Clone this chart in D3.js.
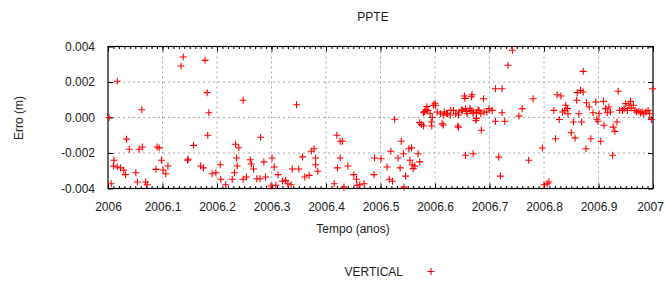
<!DOCTYPE html>
<html>
<head>
<meta charset="utf-8">
<script src="https://cdn.jsdelivr.net/npm/d3@7/dist/d3.min.js"></script>
<style>
  body { margin: 0; background: #fff; }
  text { font-family: "Liberation Sans Narrow", "Liberation Sans", Arial, sans-serif; fill: #222; }
  .axis path { display: none; }
  .axis line { stroke: #000; }
  .grid line { stroke: #a8a8a8; stroke-dasharray: 2,3; }
</style>
</head>
<body>
<script>
// data: [tempo (anos), erro (m)]
var vertical = [
  [2006.002, 0.0000], [2006.017, 0.00204], [2006.006, -0.00373], [2006.011, -0.00241], [2006.010, -0.00273],
  [2006.017, -0.00279], [2006.023, -0.00284], [2006.029, -0.00297], [2006.032, -0.00322], [2006.034, -0.00122],
  [2006.039, -0.00179], [2006.051, -0.00311], [2006.054, -0.00363], [2006.057, -0.00179], [2006.063, -0.00166],
  [2006.062, 0.00044], [2006.069, -0.00363], [2006.072, -0.00379], [2006.088, -0.00292], [2006.090, -0.00166],
  [2006.094, -0.00171], [2006.098, -0.00241], [2006.101, -0.00296], [2006.106, -0.00317], [2006.110, -0.00273],
  [2006.134, 0.0029], [2006.138, 0.00341], [2006.146, -0.00241], [2006.147, -0.00235], [2006.157, -0.00157],
  [2006.170, -0.00273], [2006.175, -0.00284], [2006.178, 0.00322], [2006.182, 0.0014], [2006.185, 0.00027],
  [2006.183, -0.001], [2006.191, -0.00317],
  [2006.248, 0.00097], [2006.346, 0.00072], [2006.280, -0.00111], [2006.234, -0.00151], [2006.240, -0.0017],
  [2006.236, -0.00228], [2006.206, -0.00266], [2006.198, -0.00311], [2006.207, -0.00348], [2006.216, -0.00379],
  [2006.228, -0.00348], [2006.237, -0.00273], [2006.232, -0.00311], [2006.248, -0.00348], [2006.254, -0.00335],
  [2006.261, -0.00238], [2006.263, -0.00262], [2006.267, -0.0029], [2006.273, -0.00345], [2006.279, -0.00345],
  [2006.286, -0.0025], [2006.289, -0.00335], [2006.301, -0.00228], [2006.305, -0.00279], [2006.308, -0.00382],
  [2006.299, -0.00386], [2006.312, -0.00322], [2006.320, -0.00359], [2006.326, -0.00354], [2006.330, -0.00373],
  [2006.336, -0.00379], [2006.338, -0.0029], [2006.350, -0.0029], [2006.357, -0.00222], [2006.361, -0.00335],
  [2006.369, -0.00326], [2006.373, -0.0019], [2006.378, -0.00176], [2006.381, -0.00228], [2006.381, -0.00266],
  [2006.385, -0.00303],
  [2006.420, -0.001], [2006.426, -0.00134], [2006.430, -0.00134], [2006.426, -0.00228], [2006.421, -0.00284],
  [2006.440, -0.00273], [2006.415, -0.00373], [2006.433, -0.00392], [2006.451, -0.00322], [2006.456, -0.00348],
  [2006.457, -0.00382], [2006.462, -0.00379], [2006.470, -0.00373], [2006.488, -0.00322], [2006.489, -0.00228],
  [2006.501, -0.00232], [2006.512, -0.00279], [2006.519, -0.0019], [2006.516, -0.00348], [2006.522, -0.00359],
  [2006.526, -0.0001], [2006.532, -0.00228], [2006.536, -0.00284], [2006.538, -0.00134], [2006.542, -0.00204],
  [2006.546, -0.0033], [2006.543, -0.00392], [2006.552, -0.00176], [2006.557, -0.00171], [2006.554, -0.00241],
  [2006.558, -0.00266], [2006.560, -0.00288], [2006.563, -0.00273], [2006.569, -0.00204], [2006.572, -0.0025],
  [2006.575, -0.0004], [2006.579, 0.00027], [2006.583, 0.00044], [2006.587, 0.0004], [2006.591, 0.00021],
  [2006.595, 0.0000], [2006.593, -0.00025], [2006.597, 0.00069], [2006.581, 0.00033], [2006.585, 0.00061],
  [2006.572, -0.00029], [2006.579, -0.00048], [2006.594, -0.00048], [2006.600, 0.0008],
  [2006.604, 0.00031], [2006.610, 0.00021], [2006.617, 0.00031], [2006.623, 0.00021], [2006.629, 0.0004],
  [2006.634, 0.0004], [2006.638, 0.00021], [2006.644, 0.00031], [2006.650, 0.0004], [2006.656, 0.0005],
  [2006.659, 0.00021], [2006.666, 0.0004], [2006.670, 0.00031], [2006.676, 0.00027], [2006.681, 0.0004],
  [2006.684, 0.00021], [2006.690, 0.00031], [2006.695, 0.00031], [2006.699, 0.0005],
  [2006.615, 0.00014], [2006.621, 0.00024], [2006.628, 0.00014], [2006.643, 0.00014], [2006.649, 0.00042],
  [2006.655, 0.00108], [2006.658, 0.00033], [2006.664, 0.00052], [2006.667, 0.00117], [2006.670, 0.00024],
  [2006.676, -0.00005], [2006.679, 0.00042], [2006.615, -0.00042], [2006.643, -0.00055],
  [2006.601, 0.00069], [2006.654, 0.00121], [2006.668, 0.00128], [2006.689, 0.00106], [2006.613, -0.00035],
  [2006.642, -0.00048], [2006.675, -0.00016], [2006.685, -0.00072], [2006.656, -0.00213], [2006.670, -0.00204],
  [2006.711, 0.00162], [2006.723, 0.00162], [2006.705, 0.0004], [2006.711, -0.00021], [2006.723, 0.00027],
  [2006.728, -0.00021], [2006.717, -0.00223], [2006.720, -0.0033], [2006.734, 0.00294], [2006.742, 0.00379],
  [2006.754, 0.00008], [2006.760, 0.0005], [2006.780, 0.00106], [2006.772, -0.00241], [2006.797, -0.00172],
  [2006.800, -0.00379], [2006.809, -0.00363], [2006.806, -0.00373],
  [2006.872, 0.0026], [2006.821, -0.0012], [2006.824, 0.00128], [2006.831, 0.00121], [2006.818, 0.0004],
  [2006.828, -0.00011], [2006.834, 0.00031], [2006.838, 0.0004], [2006.840, 0.00069], [2006.843, 0.0005],
  [2006.844, 0.00021], [2006.850, -0.00086], [2006.854, -0.00025], [2006.857, -0.00115], [2006.860, 0.00097],
  [2006.861, 0.0014], [2006.867, 0.00153], [2006.872, 0.00144], [2006.864, 0.00021], [2006.869, -0.00025],
  [2006.877, -0.00176], [2006.878, 0.00083], [2006.883, 0.00059], [2006.886, -0.0012], [2006.890, 0.00027],
  [2006.895, 0.00087], [2006.897, -0.0001], [2006.899, -0.00021], [2006.901, 0.00021], [2006.904, -0.00134],
  [2006.909, 0.00091], [2006.910, -0.00044], [2006.913, 0.0005], [2006.916, 0.00027], [2006.919, 0.00059],
  [2006.922, 0.00031], [2006.927, -0.00054], [2006.930, -0.00078], [2006.926, -0.00213], [2006.936, 0.00148],
  [2006.934, -0.00025], [2006.939, 0.0004], [2006.944, 0.0004], [2006.947, 0.0005], [2006.950, 0.00078],
  [2006.953, 0.0004], [2006.956, 0.00069], [2006.959, 0.00091], [2006.960, 0.00053], [2006.964, 0.00069],
  [2006.967, 0.0004], [2006.970, 0.00031], [2006.974, 0.00035], [2006.977, 0.00027], [2006.980, 0.00031],
  [2006.983, 0.00021], [2006.987, 0.00031], [2006.991, 0.0004], [2006.994, 0.00021], [2006.997, -0.00011],
  [2006.999, 0.00162]
];

var xTicks = [2006, 2006.1, 2006.2, 2006.3, 2006.4, 2006.5, 2006.6, 2006.7, 2006.8, 2006.9, 2007];
var xTickLabels = ["2006", "2006.1", "2006.2", "2006.3", "2006.4", "2006.5", "2006.6", "2006.7", "2006.8", "2006.9", "2007"];
var yTicks = [-0.004, -0.002, 0, 0.002, 0.004];
var yTickLabels = ["-0.004", "-0.002", "0.000", "0.002", "0.004"];

var svgWidth = 665;
var svgHeight = 282;

var margin = { top: 46.5, right: 12, bottom: 93.5, left: 108 };
var width = svgWidth - margin.left - margin.right;
var height = svgHeight - margin.top - margin.bottom;

var svg = d3.select("body")
  .append("svg")
  .attr("width", svgWidth)
  .attr("height", svgHeight);

var chartGroup = svg.append("g")
  .attr("transform", `translate(${margin.left}, ${margin.top})`);

var xScale = d3.scaleLinear().domain([2006, 2007]).range([0, width]);
var yScale = d3.scaleLinear().domain([-0.004, 0.004]).range([height, 0]);

// dashed grid on the inner ticks
var grid = chartGroup.append("g").attr("class", "grid");
grid.selectAll(".gx")
  .data(xTicks.slice(1, -1))
  .enter().append("line")
  .attr("x1", d => xScale(d)).attr("x2", d => xScale(d))
  .attr("y1", 0).attr("y2", height);
grid.selectAll(".gy")
  .data(yTicks.slice(1, -1))
  .enter().append("line")
  .attr("x1", 0).attr("x2", width)
  .attr("y1", d => yScale(d)).attr("y2", d => yScale(d));

// minor ticks every 0.01 year, top and bottom, pointing inward
var minor = d3.range(0, 101).map(i => 2006 + i / 100);
chartGroup.append("g")
  .attr("class", "axis")
  .attr("transform", `translate(0, ${height})`)
  .call(d3.axisBottom(xScale).tickValues(minor).tickSize(-2.5).tickFormat(""));
chartGroup.append("g")
  .attr("class", "axis")
  .call(d3.axisTop(xScale).tickValues(minor).tickSize(-2.5).tickFormat(""));

// major axes
var xAxisG = chartGroup.append("g")
  .attr("class", "axis")
  .attr("transform", `translate(0, ${height})`)
  .call(d3.axisBottom(xScale).tickValues(xTicks).tickSize(-5).tickPadding(14)
    .tickFormat((d, i) => xTickLabels[i]));
xAxisG.selectAll("text").attr("font-size", 12);
// last label kept inside the window
xAxisG.selectAll("text").filter(d => d === 2007).attr("dx", -3);

chartGroup.append("g")
  .attr("class", "axis")
  .call(d3.axisTop(xScale).tickValues(xTicks).tickSize(-5).tickFormat(""));

chartGroup.append("g")
  .attr("class", "axis")
  .call(d3.axisLeft(yScale).tickValues(yTicks).tickSize(-5).tickPadding(13)
    .tickFormat((d, i) => yTickLabels[i]))
  .selectAll("text").attr("font-size", 12);

chartGroup.append("g")
  .attr("class", "axis")
  .attr("transform", `translate(${width}, 0)`)
  .call(d3.axisRight(yScale).tickValues(yTicks).tickSize(-5).tickFormat(""));

// frame
chartGroup.append("rect")
  .attr("width", width)
  .attr("height", height)
  .attr("fill", "none")
  .attr("stroke", "#000")
  .attr("stroke-width", 1.2);

// points
var cross = "M-3.5,0H3.5M0,-3.5V3.5";
chartGroup.selectAll(".pt")
  .data(vertical)
  .enter()
  .append("path")
  .attr("class", "pt")
  .attr("d", cross)
  .attr("transform", d => `translate(${xScale(d[0])}, ${yScale(d[1])})`)
  .attr("fill", "none")
  .attr("stroke", "#f00")
  .attr("stroke-width", 1.1);

// labels
svg.append("text")
  .attr("x", 373)
  .attr("y", 21)
  .attr("text-anchor", "middle")
  .attr("font-size", 12)
  .text("PPTE");

svg.append("text")
  .attr("transform", "translate(23, 118) rotate(-90)")
  .attr("text-anchor", "middle")
  .attr("font-size", 12)
  .text("Erro (m)");

svg.append("text")
  .attr("x", 353)
  .attr("y", 233)
  .attr("text-anchor", "middle")
  .attr("font-size", 12)
  .text("Tempo (anos)");

// legend
svg.append("text")
  .attr("x", 403)
  .attr("y", 276)
  .attr("text-anchor", "end")
  .attr("font-size", 12)
  .text("VERTICAL");

svg.append("path")
  .attr("d", cross)
  .attr("transform", "translate(431, 271.5)")
  .attr("fill", "none")
  .attr("stroke", "#f00")
  .attr("stroke-width", 1.1);
</script>
</body>
</html>
